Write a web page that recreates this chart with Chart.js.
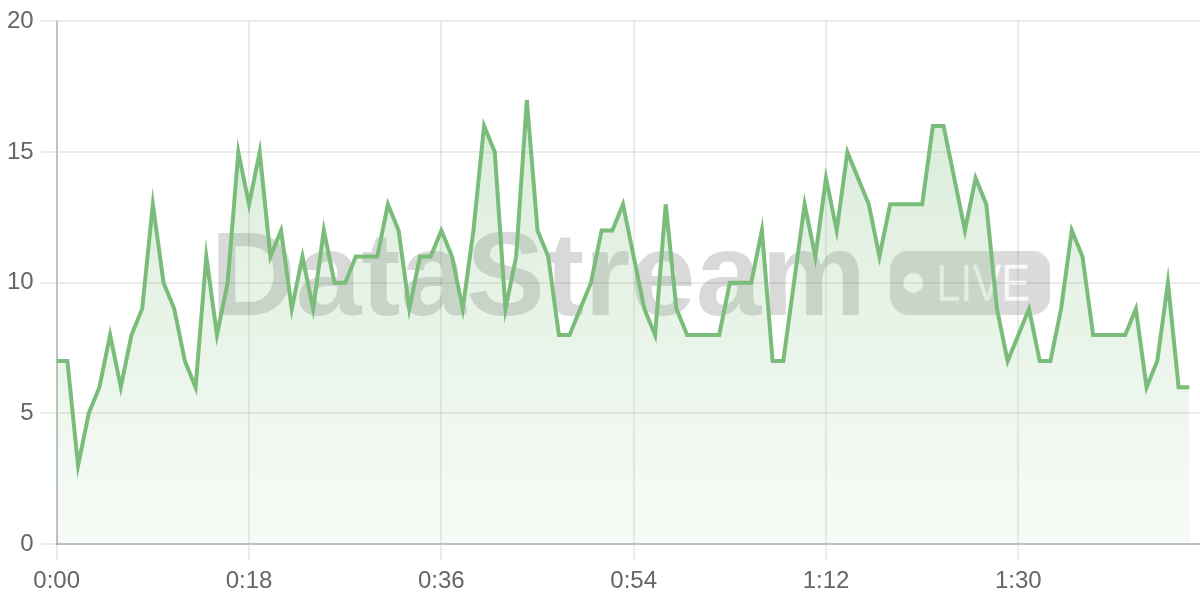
<!DOCTYPE html>
<html>
<head>
<meta charset="utf-8">
<title>DataStream live</title>
<script src="https://cdn.jsdelivr.net/npm/chart.js@4/dist/chart.umd.min.js"></script>
<style>
  html, body { margin: 0; padding: 0; background: #fff; }
  #wrap { width: 1200px; height: 600px; position: relative; }
</style>
</head>
<body>
<div id="wrap"><canvas id="streamChart"></canvas></div>
<script>
// Samples, one per second
const values = [
  7, 7, 3, 5, 6, 8, 6, 8, 9, 13,
  10, 9, 7, 6, 11, 8, 10, 15, 13, 15,
  11, 12, 9, 11, 9, 12, 10, 10, 11, 11,
  11, 13, 12, 9, 11, 11, 12, 11, 9, 12,
  16, 15, 9, 11, 17, 12, 11, 8, 8, 9,
  10, 12, 12, 13, 11, 9, 8, 13, 9, 8,
  8, 8, 8, 10, 10, 10, 12, 7, 7, 10,
  13, 11, 14, 12, 15, 14, 13, 11, 13, 13,
  13, 13, 16, 16, 14, 12, 14, 13, 9, 7,
  8, 9, 7, 7, 9, 12, 11, 8, 8, 8,
  8, 9, 6, 7, 10, 6, 6
];

// x axis ticks (seconds) and their labels
const tickSeconds = [0, 18, 36, 54, 72, 90];
const tickLabels = ['0:00', '0:18', '0:36', '0:54', '1:12', '1:30'];

// y axis ticks
const yTicks = [0, 5, 10, 15, 20];

const GREEN = 'rgb(122, 189, 122)';
const FONT = '"Liberation Sans", Helvetica, Arial, sans-serif';

// Watermark behind the line
const watermark = {
  id: 'watermark',
  beforeDatasetsDraw(chart) {
    const { ctx, chartArea } = chart;
    const cx = (chartArea.left + chartArea.right) / 2 + 2;
    const cy = (chartArea.top + chartArea.bottom) / 2;

    ctx.save();
    ctx.font = `bold 118px ${FONT}`;
    const textW = ctx.measureText('DataStream').width;
    const pillW = 160, pillH = 64, gap = 24;
    const startX = cx - (textW + gap + pillW) / 2;

    ctx.fillStyle = 'rgba(0, 0, 0, 0.15)';
    ctx.textBaseline = 'alphabetic';
    ctx.fillText('DataStream', startX, cy + 32);

    // pill with the dot and LIVE knocked out
    const off = document.createElement('canvas');
    off.width = pillW;
    off.height = pillH;
    const o = off.getContext('2d');
    o.fillStyle = '#000';
    o.beginPath();
    o.roundRect(0, 0, pillW, pillH, 18);
    o.fill();
    o.globalCompositeOperation = 'destination-out';
    o.beginPath();
    o.arc(23, pillH / 2, 10, 0, Math.PI * 2);
    o.fill();
    o.font = `52px ${FONT}`;
    const liveW = o.measureText('LIVE').width;
    o.save();
    o.translate(46, pillH / 2 + 18);
    o.scale(94 / liveW, 1);
    o.globalAlpha = 0.85;
    o.fillText('LIVE', 0, 0);
    o.restore();

    ctx.globalAlpha = 0.14;
    ctx.drawImage(off, startX + textW + gap, cy - pillH / 2);
    ctx.restore();
  }
};

const ctx = document.getElementById('streamChart').getContext('2d');
new Chart(ctx, {
  type: 'line',
  data: {
    datasets: [{
      data: values.map((v, i) => ({ x: i, y: v })),
      borderColor: GREEN,
      borderWidth: 4,
      pointRadius: 0,
      tension: 0,
      fill: 'origin',
      backgroundColor: (context) => {
        const area = context.chart.chartArea;
        if (!area) return 'rgba(122, 189, 122, 0.15)';
        const g = context.chart.ctx.createLinearGradient(0, area.top, 0, area.bottom);
        g.addColorStop(0, 'rgba(122, 189, 122, 0.32)');
        g.addColorStop(1, 'rgba(122, 189, 122, 0.06)');
        return g;
      },
    }],
  },
  options: {
    responsive: true,
    maintainAspectRatio: false,
    animation: false,
    layout: { padding: { top: 5, left: 0, right: 0, bottom: -2 } },
    plugins: {
      legend: { display: false },
      tooltip: { enabled: false },
    },
    scales: {
      x: {
        type: 'linear',
        min: 0,
        max: 107,
        afterBuildTicks: (axis) => {
          axis.ticks = tickSeconds.map(v => ({ value: v }));
        },
        ticks: {
          color: '#666',
          font: { family: FONT, size: 24, lineHeight: 1 },
          padding: 9,
          maxRotation: 0,
          callback: (value) => tickLabels[tickSeconds.indexOf(value)],
        },
        grid: { color: 'rgba(0, 0, 0, 0.08)', lineWidth: 2, tickLength: 16 },
        border: { color: 'rgba(0, 0, 0, 0.18)', width: 2 },
      },
      y: {
        min: 0,
        max: 20,
        afterBuildTicks: (axis) => {
          axis.ticks = yTicks.map(v => ({ value: v }));
        },
        ticks: {
          color: '#666',
          font: { family: FONT, size: 24 },
          padding: 7,
        },
        grid: { color: 'rgba(0, 0, 0, 0.08)', lineWidth: 2, tickLength: 16 },
        border: { color: 'rgba(0, 0, 0, 0.18)', width: 2 },
      },
    },
  },
  plugins: [watermark],
});
</script>
</body>
</html>
